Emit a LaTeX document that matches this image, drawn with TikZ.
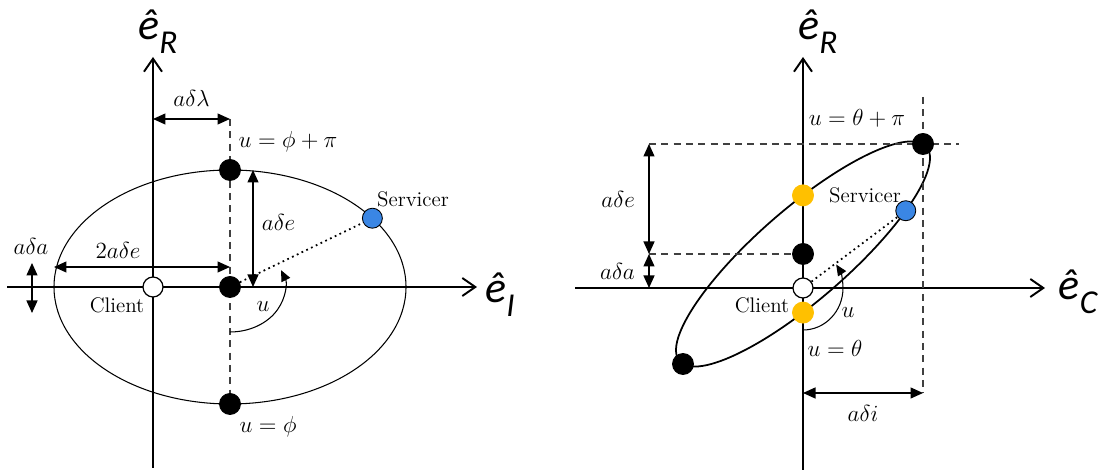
\documentclass[tikz,border=0pt]{standalone}
\usepackage{fontspec}
\newfontfamily\axisfont{Carlito}
\usepackage{tikz}
\usetikzlibrary{arrows.meta, calc, positioning}
\definecolor{cBlue}{RGB}{58,134,228}
\definecolor{cGold}{RGB}{255,192,0}
\tikzset{
  axisline/.style={-{Straight Barb[length=2.6mm,width=3.6mm]}, line width=1.1pt},
  dimarrow/.style={{Triangle[length=2.5mm,width=2.2mm]}-{Triangle[length=2.5mm,width=2.2mm]},
                   line width=0.7pt},
  guideline/.style={dashed, dash pattern=on 4pt off 3pt, line width=0.6pt, black!75},
  anglearrow/.style={-{Triangle[length=2.2mm,width=1.9mm]}, line width=0.6pt},
  basedot/.style={circle, inner sep=0pt, minimum size=0.42cm, draw=black,
                  line width=0.5pt},
  blackdot/.style={basedot, fill=black},
  clientdot/.style={basedot, fill=white, line width=0.7pt, minimum size=0.4cm},
  servdot/.style={basedot, fill=cBlue, minimum size=0.4cm},
  golddot/.style={basedot, fill=cGold, draw=cGold},
  mathlbl/.style={font=\fontsize{12}{14}\selectfont, scale=1.1},
  namelbl/.style={font=\fontsize{12}{14}\selectfont},
  axislbl/.style={font=\axisfont\itshape\fontsize{25}{29}\selectfont, inner sep=0pt}
}
\newcommand{\axlab}[1]{ê\raisebox{-0.32em}{\fontsize{19}{21}\selectfont #1}}

\begin{document}
\begin{tikzpicture}[x=0.02cm, y=0.02cm]
  \useasboundingbox (0,0) rectangle (1102,475);

  % in-plane view
  \coordinate (c1) at (153,188);
  \coordinate (m1) at (230,188);
  \draw[axisline] (153,7) -- (153,418);
  \draw[axisline] (7,188) -- (477,188);
  \draw[line width=0.6pt] (m1) ellipse[x radius=176, y radius=117];
  \draw[guideline] (230,356) coordinate (g1) -- (230,71);

  \node[blackdot] (top1) at (230,305) {};
  \node[blackdot] (mid1) at (m1) {};
  \node[blackdot] (bot1) at (230,71) {};
  \node[clientdot] (cli1) at (c1) {};
  \node[servdot] (srv1) at ($(m1)+(36:176 and 117)$) {};

  \draw[dotted, line width=1pt] (mid1) -- (srv1);
  \draw[dimarrow] (c1 |- g1) -- (g1)
      node[midway, above=3pt, mathlbl] (lam1) {$a\delta\lambda$};
  \draw[dimarrow] ($(top1)+(23,0)$) -- ($(mid1)+(23,0)$)
      node[pos=0.45, right=1pt, mathlbl] (de1) {$a\delta e$};
  \draw[dimarrow] ($(m1)+(-176,20)$) -- ($(m1)+(0,20)$);
  \node[mathlbl] (tde1) at (118,225) {$2a\delta e$};
  \draw[dimarrow] (32,212) -- (32,162);
  \node[mathlbl] (da1) at (31,229) {$a\delta a$};
  \draw[anglearrow] ($(m1)+(0,-45)$)
      arc[start angle=270, end angle=382, x radius=55, y radius=45];
  \node[mathlbl] (u1) at (263,168) {$u$};
  \node[mathlbl] (up1) at (288,333) {$u=\phi+\pi$};
  \node[mathlbl] (uf1) at (268,48) {$u=\phi$};
  \node[namelbl] (cname1) at (117,170) {Client};
  \node[namelbl] (sname1) at (413,276) {Servicer};
  \node[axislbl] (eR1) at (158,443) {\axlab{R}};
  \node[axislbl] (eI1) at (500,180) {\axlab{I}};

  % cross-track view
  \coordinate (c2) at (803,187);
  \coordinate (m2) at (803,221);
  \coordinate (dx2) at (649,0);
  \draw[axisline] (803,5) -- (803,418);
  \draw[axisline] (575,187) -- (1045,187);
  \begin{scope}[shift={(m2)}]
    \draw[line width=1pt] plot[domain=0:360, samples=120, smooth cycle]
        ({127*cos(\x)}, {112.6*cos(\x-31.4)});
    \coordinate (tr2) at ({127*cos(19.1)}, {112.6*cos(19.1-31.4)});
    \coordinate (bl2) at ({127*cos(199.1)}, {112.6*cos(199.1-31.4)});
    \coordinate (sv2) at ({127*cos(-36)}, {112.6*cos(-36-31.4)});
  \end{scope}
  \coordinate (vt2) at (0,378);
  \coordinate (vb2) at (0,82);
  \draw[guideline] (dx2 |- tr2) -- ($(tr2)+(36,0)$);
  \draw[guideline] (tr2 |- vt2) -- (tr2 |- vb2) coordinate (di2);

  \node[blackdot] (top2) at (tr2) {};
  \node[blackdot] (bot2) at (bl2) {};
  \node[blackdot] (mid2) at (m2) {};
  \node[golddot] (ya2) at ($(m2)+(0,58.6)$) {};
  \node[golddot] (yb2) at ($(m2)+(0,-58.6)$) {};
  \node[clientdot] (cli2) at (c2) {};
  \node[servdot] (srv2) at (sv2) {};

  \draw[guideline] (dx2 |- mid2) -- (mid2);
  \draw[dotted, line width=1pt] (cli2) -- (srv2);
  \draw[dimarrow] (dx2 |- top2) -- (dx2 |- mid2)
      node[midway, left=4pt, mathlbl] (de2) {$a\delta e$};
  \draw[dimarrow] (dx2 |- mid2) -- (dx2 |- c2)
      node[midway, left=4pt, mathlbl] (da2) {$a\delta a$};
  \draw[dimarrow] (c2 |- di2) -- (di2)
      node[midway, below=3pt, mathlbl] (di2l) {$a\delta i$};
  \draw[anglearrow] ($(c2)+(0,-42)$)
      arc[start angle=270, end angle=394, x radius=40, y radius=42];
  \node[mathlbl] (u2) at (848,162) {$u$};
  \node[mathlbl] (up2) at (857,357) {$u=\theta+\pi$};
  \node[mathlbl] (ut2) at (835,127) {$u=\theta$};
  \node[namelbl] (cname2) at (762,170) {Client};
  \node[namelbl] (sname2) at (865,280) {Servicer};
  \node[axislbl] (eR2) at (818,443) {\axlab{R}};
  \node[axislbl] (eC2) at (1078,183) {\axlab{C}};
\end{tikzpicture}
\end{document}
